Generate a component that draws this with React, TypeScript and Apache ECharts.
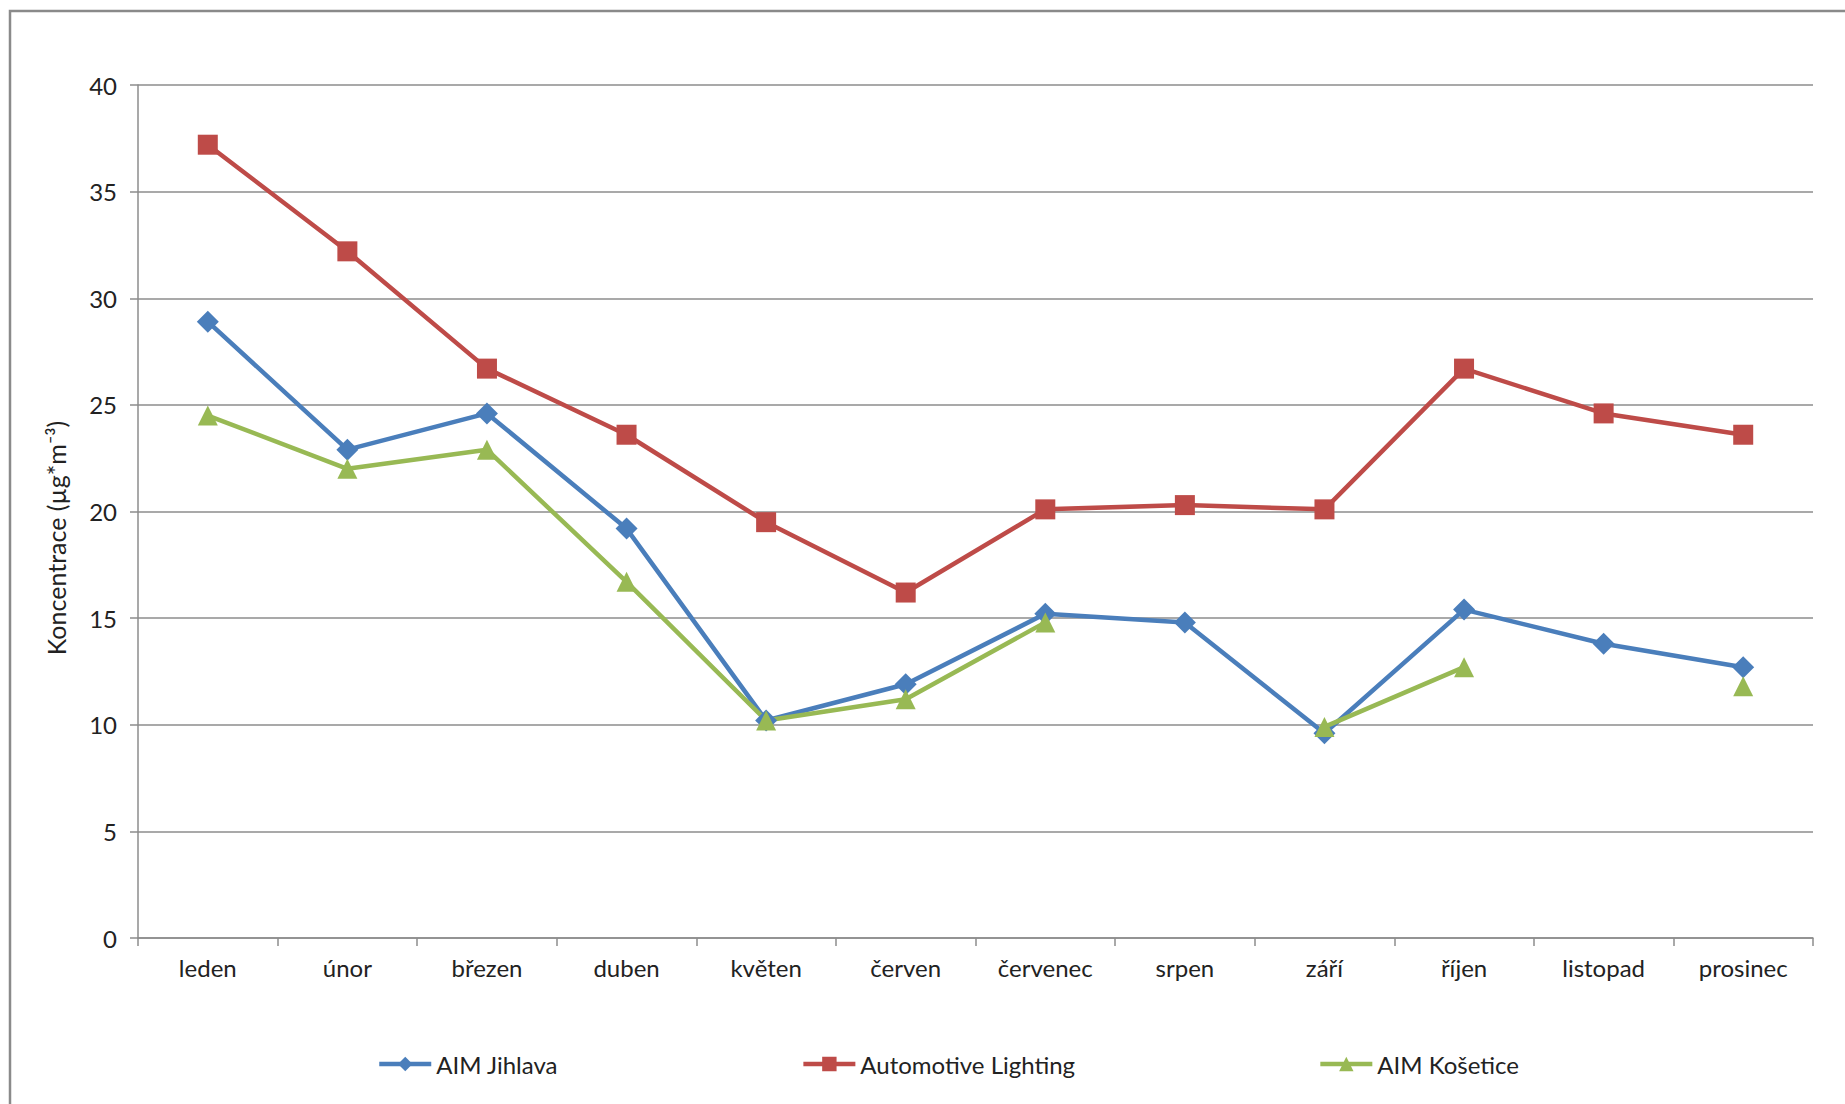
import React, { useEffect, useRef } from "react";
import * as echarts from "echarts";

const categories = ["leden", "únor", "březen", "duben", "květen", "červen", "červenec", "srpen", "září", "říjen", "listopad", "prosinec"];
const jihlava = [28.9, 22.9, 24.6, 19.2, 10.2, 11.9, 15.2, 14.8, 9.6, 15.4, 13.8, 12.7];
const automotive = [37.2, 32.2, 26.7, 23.6, 19.5, 16.2, 20.1, 20.3, 20.1, 26.7, 24.6, 23.6];
const kosetice = [24.5, 22.0, 22.9, 16.7, 10.2, 11.2, 14.8, null, 9.9, 12.7, null, 11.8];
const yTicks = { min: 0, max: 40, interval: 5 };
const yTitle = "Koncentrace (µg*m⁻³)";

const FONT = "Lato, 'Open Sans', sans-serif";

export default function App() {
  const ref = useRef<HTMLDivElement>(null);
  useEffect(() => {
    const chart = echarts.init(ref.current!, null, { renderer: "svg" });
    const mk = (name: string, data: (number | null)[], color: string, symbol: string, size: number) => ({
      name,
      type: "line",
      data,
      connectNulls: false,
      symbol,
      symbolSize: size,
      showAllSymbol: true,
      lineStyle: { color, width: 4.5 },
      itemStyle: { color },
      emphasis: { disabled: true },
    });
    chart.setOption({
      animation: false,
      backgroundColor: "#ffffff",
      textStyle: { fontFamily: FONT },
      graphic: [
        {
          type: "rect",
          shape: { x: 10, y: 11, width: 1900, height: 1200 },
          style: { fill: "none", stroke: "#8a8a8a", lineWidth: 2.5 },
          silent: true,
        },
        {
          type: "text",
          x: 56,
          y: 538,
          rotation: Math.PI / 2,
          style: {
            text: yTitle,
            fontSize: 25,
            fontFamily: FONT,
            fill: "#222",
            align: "center",
            verticalAlign: "middle",
          },
          silent: true,
        },
      ],
      grid: { left: 138, right: 32, top: 85, bottom: 166, containLabel: false },
      legend: {
        left: 377,
        top: 1052,
        padding: 0,
        itemGap: 243,
        itemWidth: 52,
        itemHeight: 18,
        lineStyle: { width: 4.5 },
        textStyle: { fontSize: 24, color: "#222", fontFamily: FONT },
        data: ["AIM Jihlava", "Automotive Lighting", "AIM Košetice"],
      },
      xAxis: {
        type: "category",
        data: categories,
        boundaryGap: true,
        axisLine: { lineStyle: { color: "#8c8c8c", width: 1.5 } },
        axisTick: { show: true, length: 8, lineStyle: { color: "#8c8c8c", width: 1.5 }, alignWithLabel: false },
        axisLabel: { fontSize: 24, color: "#222", margin: 17, fontFamily: FONT },
      },
      yAxis: {
        type: "value",
        min: yTicks.min,
        max: yTicks.max,
        interval: yTicks.interval,
        axisLine: { show: true, lineStyle: { color: "#8c8c8c", width: 1.5 } },
        axisTick: { show: true, length: 8, lineStyle: { color: "#8c8c8c", width: 1.5 } },
        axisLabel: { fontSize: 24, color: "#222", margin: 21, fontFamily: FONT },
        splitLine: { show: true, lineStyle: { color: "#8c8c8c", width: 1.5 } },
      },
      series: [
        mk("AIM Jihlava", jihlava, "#4a7ebb", "diamond", 22),
        mk("Automotive Lighting", automotive, "#be4b48", "rect", 20),
        mk("AIM Košetice", kosetice, "#98b954", "triangle", 20),
      ],
    });
    return () => chart.dispose();
  }, []);
  return <div ref={ref} style={{ position: "absolute", left: 0, top: 0, width: 1845, height: 1104 }} />;
}
